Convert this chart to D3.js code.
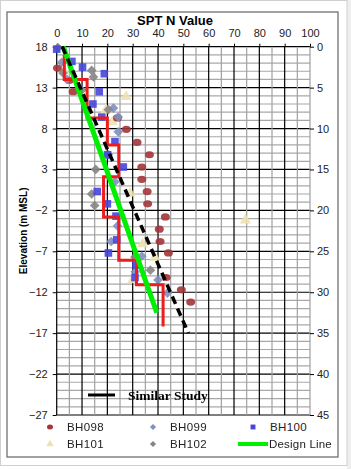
<!DOCTYPE html>
<html>
<head>
<meta charset="utf-8">
<script src="https://cdn.jsdelivr.net/npm/d3@7"></script>
<style>
  body { margin: 0; background: #fff; }
  svg { display: block; font-family: "Liberation Sans", Arial, sans-serif; }
</style>
</head>
<body>
<div id="chart"></div>
<script>
// SPT N values (x) against elevation in m MSL (y)
const bh098N    = [0.3, 5, 6.5, 24, 27.5, 31.7, 36.6, 33.6, 33.6, 35.7, 35.9, 42.9, 40.5, 40.8, 44.1, 43.2, 49.2, 52.9]
const bh098Elev = [15.4, 13.9, 12.5, 9.3, 7.9, 6.3, 4.8, 3.3, 1.8, 0.3, -1.2, -2.8, -4.3, -5.8, -7.2, -10.2, -11.7, -13.2]

const bh099N    = [2, 4, 22.4, 24.3, 24.3, 20.4, 23, 24, 21.5, 33.6, 31, 40, 43.7]
const bh099Elev = [16.1, 14, 10.5, 9.4, 7.6, 4.8, 1.5, -3.9, -5.8, -7.6, -9.5, -10.5, -12.1]

const bh100N    = [0, 6, 10.2, 18.8, 16.8, 14.3, 17.8, 23, 20.1, 26.3, 16, 20, 23.4, 23.7, 20.4, 31.3, 30.9]
const bh100Elev = [17.7, 16.2, 15.5, 14.7, 12.5, 11.0, 9.4, 6.4, 4.8, 3.3, 0.3, -1.2, -2.7, -5.6, -7.2, -8.7, -10.2]

const bh101N    = [3, 27.4, 19.5, 22, 29, 33.9, 38.8, 74.5, 30]
const bh101Elev = [15, 11.9, 10.3, 8.8, 0.1, -6.1, -7.75, -3.2, -10.5]

const bh102N    = [0.5, 2.5, 13.8, 14.5, 9.9, 20.4, 15.4, 13.8, 15, 30.9, 37]
const bh102Elev = [17.9, 14.8, 15.1, 14.3, 12.7, 10.3, 3, 0, -1.4, -7.7, -9.3]

// red step profile
const redN    = [3, 3, 12, 12, 20, 20, 24.5, 24.5, 18.5, 18.5, 24.5, 24.5, 31.5, 31.5, 42, 42]
const redElev = [17, 14, 14, 9.3, 9.3, 6, 6, 2.1, 2.1, -2.8, -2.8, -8.1, -8.1, -11.1, -11.1, -16.2]

const designN = [2.6, 39.5]
const designElev = [18, -14.5]

const similarN = [2.2, 52]
const similarElev = [18, -17]

const nTicks = d3.range(0, 101, 10)
const elevTicks = d3.range(18, -28, -5)
const depthTicks = d3.range(0, 46, 5)

const width = 351
const height = 469

const x = d3.scaleLinear().domain([0, 100]).range([56.7, 310])
const y = d3.scaleLinear().domain([18, -27]).range([46.7, 415])
const depth = d3.scaleLinear().domain([0, 45]).range([46.7, 415])

const svg = d3.select("#chart")
    .append("svg")
    .attr("width", width)
    .attr("height", height)

// outer frames
svg.append("rect")
    .attr("x", 347).attr("y", 0).attr("width", 4).attr("height", height)
    .attr("fill", "#eeeeee")
svg.append("rect")
    .attr("x", 0.5).attr("y", 0.5).attr("width", 346.5).attr("height", 465)
    .attr("fill", "none").attr("stroke", "#d0d0d0")
svg.append("rect")
    .attr("x", 7).attr("y", 12).attr("width", 331).attr("height", 445)
    .attr("fill", "none").attr("stroke", "#707070").attr("stroke-width", 1.3)

// grid
const grid = svg.append("g")
d3.range(18, -28, -1).forEach(e => {
    const major = (18 - e) % 5 === 0
    grid.append("line")
        .attr("x1", x(0)).attr("x2", x(100))
        .attr("y1", y(e)).attr("y2", y(e))
        .attr("stroke", major ? "#000" : "#a8a8a8")
        .attr("stroke-width", 1.2)
})
d3.range(0, 101, 5).forEach(v => {
    const major = v % 10 === 0 && v < 100
    grid.append("line")
        .attr("x1", x(v)).attr("x2", x(v))
        .attr("y1", y(18)).attr("y2", y(-27))
        .attr("stroke", major ? "#000" : "#a0a0a0")
        .attr("stroke-width", 1.2)
})

// axes
const styleAxis = g => {
    g.select(".domain").remove()
    g.selectAll("line").attr("stroke", "#000")
    g.selectAll("text").attr("font-size", 11).attr("fill", "#222")
        .attr("font-family", "Liberation Sans, Arial, sans-serif")
}
svg.append("g")
    .attr("transform", `translate(${x(0)},0)`)
    .call(d3.axisLeft(y).tickValues(elevTicks).tickSize(4).tickPadding(5))
    .call(styleAxis)
svg.append("g")
    .attr("transform", `translate(${x(100)},0)`)
    .call(d3.axisRight(depth).tickValues(depthTicks).tickSize(4).tickPadding(3))
    .call(styleAxis)
svg.append("g")
    .attr("transform", `translate(0,${y(18)})`)
    .call(d3.axisTop(x).tickValues(nTicks).tickSize(3).tickPadding(7))
    .call(styleAxis)

svg.append("text")
    .attr("x", 175).attr("y", 25)
    .attr("text-anchor", "middle")
    .attr("font-size", 13).attr("font-weight", "bold")
    .text("SPT N Value")

svg.append("text")
    .attr("transform", `translate(23,${(y(18) + y(-27)) / 2}) rotate(-90)`)
    .attr("text-anchor", "middle")
    .attr("dy", "0.35em")
    .attr("font-size", 10).attr("font-weight", "bold")
    .text("Elevation (m MSL)")

// boreholes
const series = [
    {name: "BH098", n: bh098N, e: bh098Elev, type: "ellipse", color: "#a3363a"},
    {name: "BH099", n: bh099N, e: bh099Elev, type: d3.symbolDiamond2, color: "#8090c0", size: 60},
    {name: "BH100", n: bh100N, e: bh100Elev, type: d3.symbolSquare, color: "#4646dc", size: 58},
    {name: "BH101", n: bh101N, e: bh101Elev, type: d3.symbolTriangle, color: "#eee2b0", size: 55},
    {name: "BH102", n: bh102N, e: bh102Elev, type: d3.symbolDiamond2, color: "#858585", size: 60}
]

const drawOrder = [series[3], series[0], series[1], series[4], series[2]]
drawOrder.forEach(s => {
    const pts = s.n.map((v, i) => ({v: v, e: s.e[i]}))
    const g = svg.append("g").attr("opacity", 0.9)
    if (s.type === "ellipse") {
        g.selectAll("ellipse").data(pts).enter().append("ellipse")
            .attr("cx", d => x(d.v)).attr("cy", d => y(d.e))
            .attr("rx", 4.5).attr("ry", 3.6)
            .attr("fill", s.color)
    } else {
        g.selectAll("path").data(pts).enter().append("path")
            .attr("transform", d => `translate(${x(d.v)},${y(d.e)})`)
            .attr("d", d3.symbol().type(s.type).size(s.size))
            .attr("fill", s.color)
    }
})

const line = d3.line()
    .x(d => x(d[0]))
    .y(d => y(d[1]))

svg.append("path")
    .datum(redN.map((v, i) => [v, redElev[i]]))
    .attr("fill", "none")
    .attr("stroke", "#ee1c1c")
    .attr("stroke-width", 3)
    .attr("d", line)

svg.append("path")
    .datum(designN.map((v, i) => [v, designElev[i]]))
    .attr("fill", "none")
    .attr("stroke", "#00ee00")
    .attr("stroke-width", 5)
    .attr("d", line)

svg.append("path")
    .datum(similarN.map((v, i) => [v, similarElev[i]]))
    .attr("fill", "none")
    .attr("stroke", "#000")
    .attr("stroke-width", 3.5)
    .attr("stroke-dasharray", "8,5")
    .attr("d", line)

// similar study legend inside the plot
svg.append("line")
    .attr("x1", 88).attr("x2", 115)
    .attr("y1", 395).attr("y2", 395)
    .attr("stroke", "#000").attr("stroke-width", 3)
svg.append("text")
    .attr("x", 128).attr("y", 399.5)
    .attr("font-family", "Liberation Serif, Times New Roman, serif")
    .attr("font-size", 13.5).attr("font-weight", 600)
    .text("Similar Study")

// bottom legend
const legendPos = [
    {s: series[0], lx: 50, ly: 427},
    {s: series[1], lx: 153, ly: 427},
    {s: series[2], lx: 253, ly: 427},
    {s: series[3], lx: 50, ly: 444},
    {s: series[4], lx: 153, ly: 444}
]
legendPos.forEach(p => {
    if (p.s.type === "ellipse") {
        svg.append("ellipse").attr("cx", p.lx).attr("cy", p.ly)
            .attr("rx", 3).attr("ry", 2.5).attr("fill", p.s.color)
    } else {
        svg.append("path")
            .attr("transform", `translate(${p.lx},${p.ly})`)
            .attr("d", d3.symbol().type(p.s.type).size(24))
            .attr("fill", p.s.color)
    }
    svg.append("text")
        .attr("x", p.lx + 17).attr("y", p.ly + 4)
        .attr("font-size", 11.5).attr("fill", "#222")
        .attr("letter-spacing", 0.4)
        .text(p.s.name)
})
svg.append("line")
    .attr("x1", 238).attr("x2", 268)
    .attr("y1", 444).attr("y2", 444)
    .attr("stroke", "#00ee00").attr("stroke-width", 4)
svg.append("text")
    .attr("x", 269).attr("y", 448)
    .attr("font-size", 11.5).attr("fill", "#222")
    .attr("letter-spacing", 0.2)
    .text("Design Line")
</script>
</body>
</html>
